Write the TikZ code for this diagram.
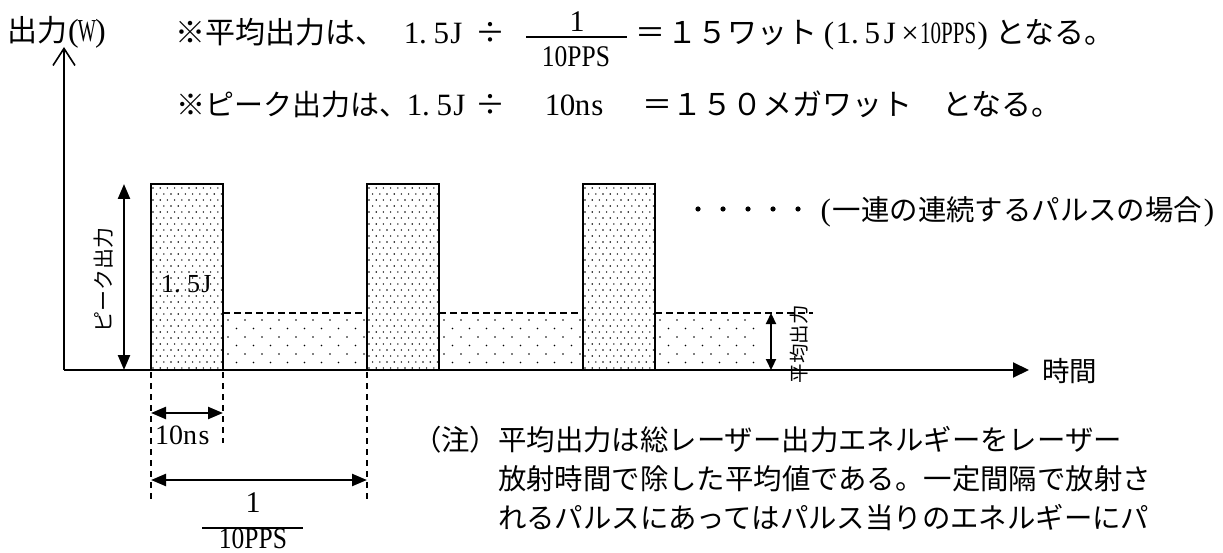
\documentclass[tikz,border=0pt]{standalone}
\usepackage{fontspec}
\usepackage{graphicx}
\setmainfont{Liberation Serif}
\newfontfamily\cjk{Noto Sans CJK JP}
\usetikzlibrary{arrows.meta}
\newcommand\hc[1]{\makebox[0.5em]{#1}}
\newcommand\hcl[1]{\makebox[0.5em][l]{#1}}
\newcommand\fs[1]{\fontsize{#1}{#1}\selectfont}
\newcommand\cnd[1]{\scalebox{0.85}[1]{#1}}
\tikzset{
  every node/.style={inner sep=0pt, outer sep=0pt},
  jt/.style={anchor=base west, font={\cjk\fs{30}}},
  jc/.style={anchor=base, font={\cjk\fs{30}}},
  lt/.style={anchor=base west, font={\rmfamily\fs{31}}},
  lc/.style={anchor=base, font={\rmfamily\fs{30}}},
  nt/.style={anchor=base west, font={\cjk\fs{28.4}}},
  axis/.style={line width=2pt},
  pulse/.style={line width=2pt},
  avgline/.style={line width=1.8pt, dash pattern=on 7pt off 4pt},
  guide/.style={line width=1.6pt, dash pattern=on 6pt off 5pt},
  dim/.style={line width=2.4pt, {Triangle[length=15pt,width=12pt]}-{Triangle[length=15pt,width=12pt]}},
  smalldim/.style={line width=2.2pt, {Triangle[length=11pt,width=10pt]}-{Triangle[length=11pt,width=10pt]}},
}
\begin{document}
\begin{tikzpicture}[x=1pt,y=-1pt]
\useasboundingbox (0,0) rectangle (1223,553);

% ---- average-level dotted areas
\foreach \ax/\bx in {223/367,439/583,655/757}{
  \begin{scope}
    \clip (\ax,313) rectangle (\bx,370);
    \foreach \r in {0,...,5}{
      \pgfmathsetmacro\yy{320+8.5*\r}
      \pgfmathsetmacro\off{mod(\r,2)*8.5}
      \foreach \c in {0,...,9}{
        \fill (\ax+5+\off+17*\c,\yy) circle (0.9pt);
      }
    }
  \end{scope}
}
% ---- pulse dotted interiors
\foreach \px in {151,367,583}{
  \begin{scope}
    \clip (\px,184) rectangle ++(72,186);
    \foreach \r in {0,...,31}{
      \pgfmathsetmacro\yy{188+6*\r}
      \pgfmathsetmacro\off{mod(\r,2)*3.6}
      \foreach \c in {0,...,10}{
        \fill (\px+2+\off+7.2*\c,\yy) circle (0.8pt);
      }
    }
  \end{scope}
  \draw[pulse] (\px,370) rectangle ++(72,-186);
}

% ---- average dashed level
\coordinate (a1) at (223,313); \coordinate (a2) at (367,313);
\coordinate (a3) at (439,313); \coordinate (a4) at (583,313);
\coordinate (a5) at (655,313); \coordinate (a6) at (813,313);
\draw[avgline] (a1) -- (a2);
\draw[avgline] (a3) -- (a4);
\draw[avgline] (a5) -- (a6);

% ---- axes
\coordinate (O) at (64,370);
\coordinate (ytop) at (64,47);
\coordinate (xend) at (1029,370);
\draw[axis, -{Straight Barb[length=17pt,width=22pt,line width=1.6pt]}] (O) -- (ytop);
\draw[axis, -{Triangle[length=16pt,width=15pt]}] (O) -- (xend);
\node[anchor=base west, font={\cjk\fs{27.5}}] (time) at (1042,381) {時間};

% ---- peak arrow and label
\coordinate (p1) at (124,184); \coordinate (p2) at (124,370);
\draw[dim] (p1) -- (p2);
\node[font={\cjk\fs{21}}, rotate=90] (peak) at (104,280) {ピーク出力};
\node[anchor=base, font={\rmfamily\fs{26}}] (ej) at (187,292) {\hc{1}\hcl{.}\hc{5}\hc{J}};

% ---- average arrow and label
\coordinate (m1) at (771,313); \coordinate (m2) at (771,370);
\draw[smalldim] (m1) -- (m2);
\node[font={\cjk\fs{19.5}}, rotate=90] (avg) at (799,344) {平均出力};

% ---- guides below axis
\coordinate (g1a) at (151,372); \coordinate (g1b) at (151,502);
\coordinate (g2a) at (223,372); \coordinate (g2b) at (223,443);
\coordinate (g3a) at (367,372); \coordinate (g3b) at (367,502);
\draw[guide] (g1a) -- (g1b);
\draw[guide] (g2a) -- (g2b);
\draw[guide] (g3a) -- (g3b);
\coordinate (w1) at (151,413); \coordinate (w2) at (223,413);
\draw[dim] (w1) -- (w2);
\node[anchor=base, font={\rmfamily\fs{28}}] (tns) at (183,444) {\hc{1}\hc{0}\hc{n}\hc{s}};
\coordinate (q1) at (151,480); \coordinate (q2) at (367,480);
\draw[dim] (q1) -- (q2);
\node[lc] (qn) at (253,512) {1};
\coordinate (qb1) at (202,528); \coordinate (qb2) at (303,528);
\draw[line width=2.2pt] (qb1) -- (qb2);
\node[lc] (qd) at (253,548) {\cnd{10PPS}};

% ---- continuation dots and text
\foreach \k in {0,...,4}{ \fill (698+25*\k,209) circle (2.6pt); }
\node[anchor=base east, font={\cjk\fs{28.4}}] (cont) at (1216,221)
  {{\rmfamily\fs{31}\makebox[14pt]{(}}一連の連続するパルスの場合{\rmfamily\fs{31}\makebox[14pt]{)}}};

% ---- y axis title
\node[jt] (ytitle) at (8,42) {出力{\rmfamily\fs{32}\makebox[11pt]{(}\makebox[16pt]{\scalebox{0.6}[1]{W}}\makebox[11pt]{)}}};

% ---- top formula line 1
\node[jt] (t1a) at (175,44) {※平均出力は、};
\node[lt] (t1b) at (404,44) {\makebox[15pt]{1}\makebox[15pt][l]{.}\makebox[15pt]{5}\makebox[15pt]{J}};
\node[jc] (t1c) at (490,44) {÷};
\coordinate (fb1) at (526,37); \coordinate (fb2) at (627,37);
\draw[line width=1.8pt] (fb1) -- (fb2);
\node[lc] (fn) at (577,32) {1};
\node[lc] (fd) at (576,67) {\cnd{10PPS}};
\node[jc] (t1e) at (650,44) {＝};
\node[jt] (t1f) at (667,44) {１５ワット};
\node[lt] (t1g) at (822,44) {\makebox[14pt]{(}\makebox[15pt]{1}\makebox[14pt][l]{.}\makebox[15pt]{5}\makebox[20pt]{J}\makebox[20pt]{×}\scalebox{0.68}[1]{10PPS}\makebox[13pt]{)}};
\node[jt] (t1h) at (995,44) {となる。};

% ---- top formula line 2
\node[anchor=base west, font={\cjk\fs{29}}] (t2a) at (176,116) {※ピーク出力は、};
\node[lt] (t2b) at (407,116) {\makebox[15pt]{1}\makebox[15pt][l]{.}\makebox[15pt]{5}\makebox[15pt]{J}};
\node[jc] (t2c) at (490,116) {÷};
\node[lt] (t2d) at (545,116) {\makebox[15pt]{1}\makebox[15pt]{0}\makebox[15pt]{n}\makebox[15pt]{s}};
\node[jt] (t2e) at (642,116) {＝１５０メガワット　となる。};

% ---- note
\node[nt] (n1) at (413,450) {（注）平均出力は総レーザー出力エネルギーをレーザー};
\node[nt] (n2) at (498,489) {放射時間で除した平均値である。一定間隔で放射さ};
\node[nt] (n3) at (498,528) {れるパルスにあってはパルス当りのエネルギーにパ};
\end{tikzpicture}
\end{document}
